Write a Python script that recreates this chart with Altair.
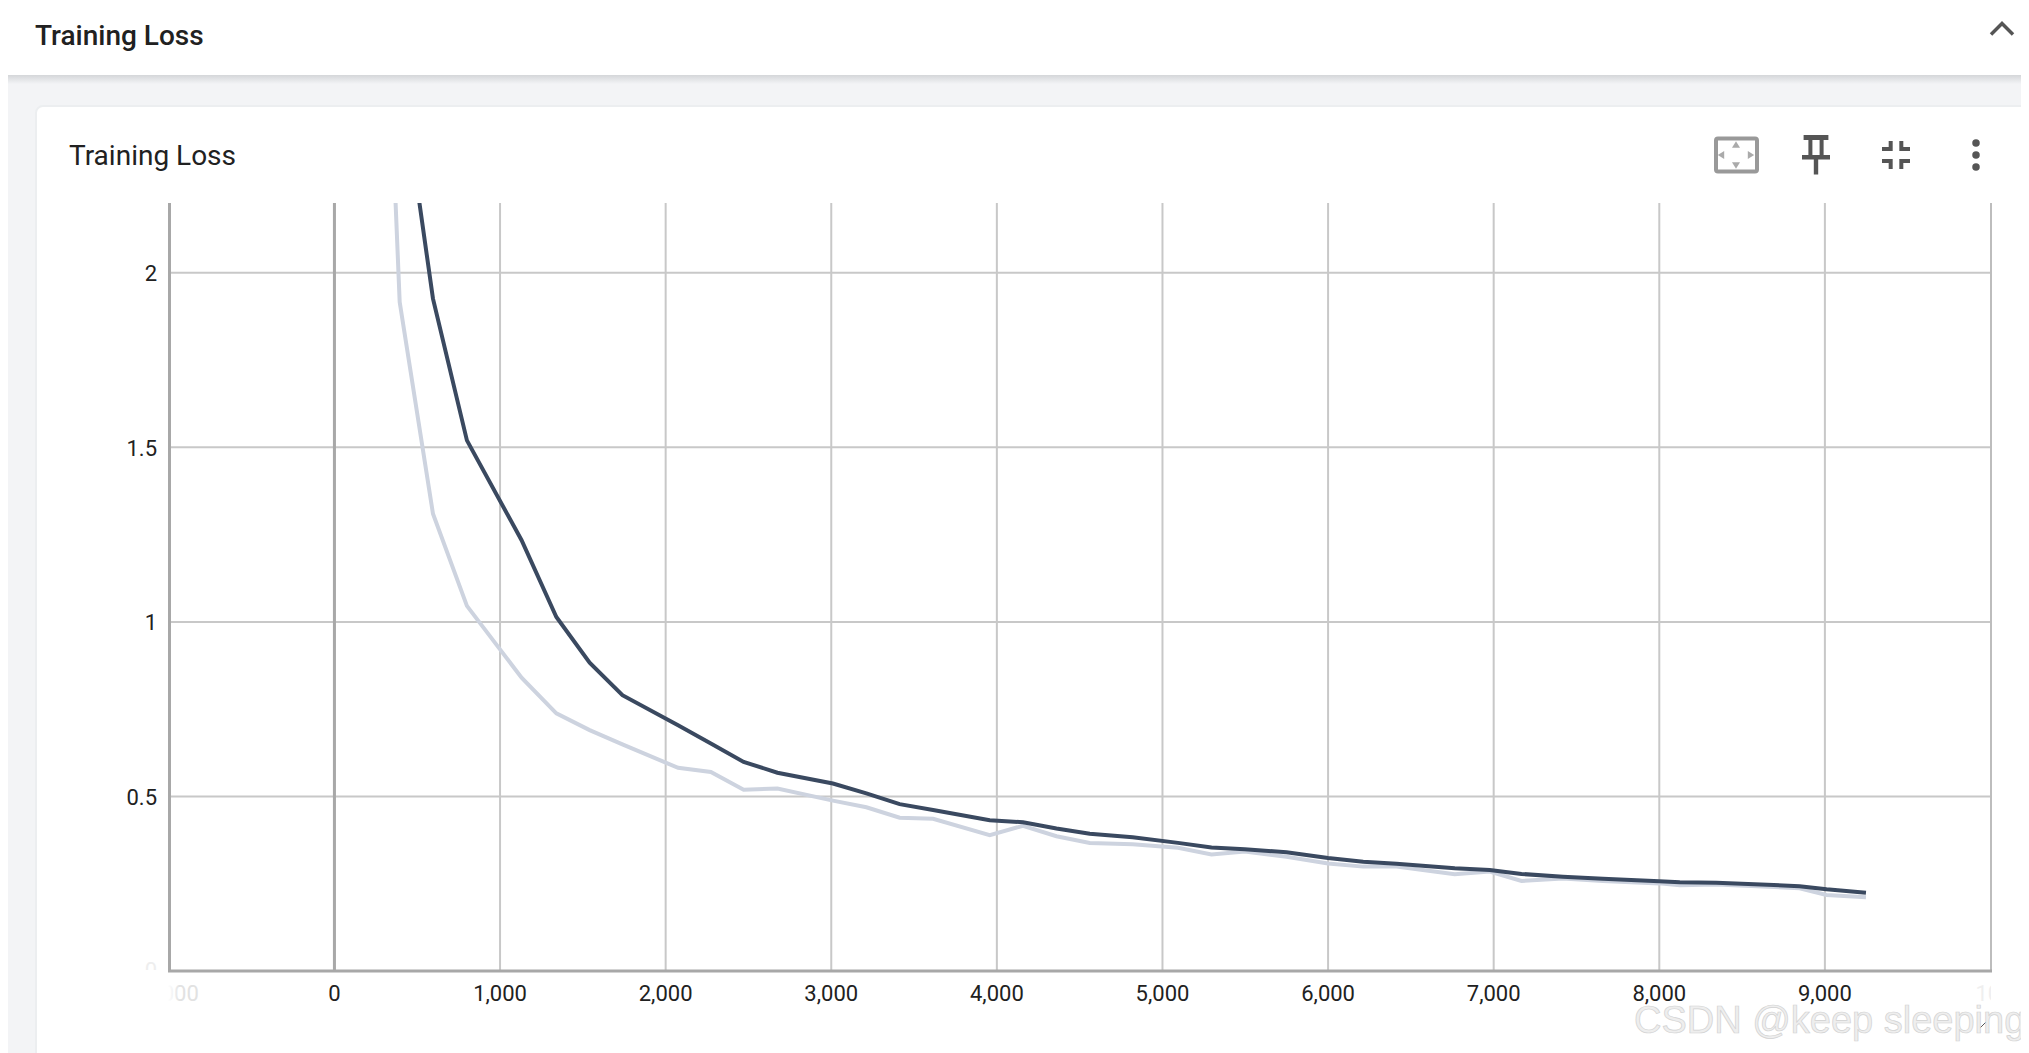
import altair as alt
import pandas as pd

# ---- data ----
dark_steps = [195, 394, 595, 800, 1130, 1340, 1541, 1739, 2075, 2273, 2471, 2675, 3010, 3212, 3413, 3615,
              3957, 4158, 4360, 4561, 4820, 5094, 5296, 5497, 5749, 6000, 6212, 6413, 6765, 6976, 7168,
              7418, 7660, 8000, 8124, 8345, 8847, 9010, 9248]
dark_values = [4.0, 2.6, 1.926, 1.52, 1.234, 1.014, 0.883, 0.79, 0.704, 0.652, 0.599, 0.568, 0.537, 0.509,
               0.478, 0.461, 0.432, 0.426, 0.408, 0.393, 0.383, 0.367, 0.354, 0.349, 0.34, 0.324, 0.313,
               0.307, 0.294, 0.289, 0.278, 0.27, 0.264, 0.257, 0.254, 0.253, 0.243, 0.234, 0.224]
light_steps = [195, 394, 595, 800, 1130, 1340, 1541, 1739, 2075, 2273, 2471, 2675, 3010, 3212, 3413, 3615,
               3957, 4158, 4360, 4561, 4820, 5094, 5296, 5497, 5749, 6000, 6212, 6413, 6765, 6976, 7168,
               7418, 7660, 8000, 8124, 8345, 8847, 9010, 9248]
light_values = [4.2, 1.916, 1.31, 1.046, 0.84, 0.738, 0.69, 0.649, 0.582, 0.57, 0.519, 0.523, 0.488, 0.469,
                0.439, 0.436, 0.389, 0.416, 0.386, 0.367, 0.363, 0.353, 0.334, 0.342, 0.327, 0.308, 0.299,
                0.299, 0.277, 0.285, 0.258, 0.265, 0.258, 0.251, 0.246, 0.248, 0.237, 0.218, 0.211]
x_ticks = [0, 1000, 2000, 3000, 4000, 5000, 6000, 7000, 8000, 9000]
x_tick_labels = ["0", "1,000", "2,000", "3,000", "4,000", "5,000", "6,000", "7,000", "8,000", "9,000"]
y_ticks = [0.5, 1, 1.5, 2]
y_tick_labels = ["0.5", "1", "1.5", "2"]
left_edge_tick = [-1000]
left_edge_label = ["-1,000"]
right_edge_tick = [10000]
right_edge_label = ["10,000"]
title_text = "Training Loss"
watermark = "CSDN @keep sleeping"

# ---- layout: page coordinates of the plot area ----
PL, PT, PW, PH = 168, 203, 1823, 768
X_DOMAIN = [-1005, 10003]
Y_DOMAIN = [0, 2.2]
FONT = "Roboto"
TICK_SIZE = 22
xs = alt.Scale(domain=X_DOMAIN, nice=False, zero=False)
ys = alt.Scale(domain=Y_DOMAIN, nice=False, zero=False)


def px(v):
    return alt.value(v - PL)


def py(v):
    return alt.value(v - PT)


def box(x0, y0, x1, y1, color, **kw):
    return alt.Chart(pd.DataFrame({"a": [0]})).mark_rect(color=color, **kw).encode(
        x=px(x0), x2=px(x1), y=py(y0), y2=py(y1))


def label(x, y, text, **kw):
    return alt.Chart(pd.DataFrame({"t": [text]})).mark_text(font=FONT, **kw).encode(
        x=px(x), y=py(y), text="t:N")


def icon(x, y, path, size, **kw):
    return alt.Chart(pd.DataFrame({"a": [0]})).mark_point(shape=path, size=size, opacity=1, **kw).encode(
        x=px(x), y=py(y))


def fade(c0, c1):
    return alt.Gradient(gradient="linear", x1=0, y1=0, x2=1, y2=0,
                        stops=[alt.GradientStop(color=c0, offset=0), alt.GradientStop(color=c1, offset=1)])


shadow = alt.Gradient(gradient="linear", x1=0, y1=0, x2=0, y2=1,
                      stops=[alt.GradientStop(color="#d4d6d9", offset=0), alt.GradientStop(color="#f3f4f6", offset=1)])

# ---- page chrome ----
chrome = [
    box(0, 75, 2040, 84, shadow),
    box(0, 0, 2040, 75, "#ffffff"),
    box(36, 106, 2040, 1060, "#ffffff", cornerRadius=7, stroke="#eceef0", strokeWidth=2),
    label(35, 37, title_text, fontSize=28, fontWeight=500, align="left", baseline="middle", color="#212121"),
    label(69, 157, title_text, fontSize=28, fontWeight=400, align="left", baseline="middle", color="#212121"),
]

# ---- grid, drawn under the curves ----
xgrid = alt.Chart(pd.DataFrame({"x": x_ticks})).mark_rule(color="#c8c8c8", strokeWidth=2).encode(
    x=alt.X("x:Q", scale=xs, axis=None), y=alt.value(0), y2=alt.value(PH))
x0rule = alt.Chart(pd.DataFrame({"x": [0]})).mark_rule(color="#a8a8a8", strokeWidth=3).encode(
    x=alt.X("x:Q", scale=xs, axis=None), y=alt.value(0), y2=alt.value(PH))
ygrid = alt.Chart(pd.DataFrame({"y": y_ticks})).mark_rule(color="#c8c8c8", strokeWidth=2).encode(
    y=alt.Y("y:Q", scale=ys, axis=None), x=alt.value(0), x2=alt.value(PW))
frame = [
    box(PL, PT, PL + 3, PT + PH, "#a8a8a8"),
    box(PL + PW - 1, PT, PL + PW + 1, PT + PH, "#bdbdbd"),
    box(PL, PT + PH - 1.5, PL + PW + 1, PT + PH + 1.5, "#a8a8a8"),
]

# ---- curves ----
light = alt.Chart(pd.DataFrame({"x": light_steps, "y": light_values})).mark_line(
    color="#cdd3df", strokeWidth=4, clip=True).encode(
    x=alt.X("x:Q", scale=xs, axis=None), y=alt.Y("y:Q", scale=ys, axis=None))
dark = alt.Chart(pd.DataFrame({"x": dark_steps, "y": dark_values})).mark_line(
    color="#3a4960", strokeWidth=4, clip=True).encode(
    x=alt.X("x:Q", scale=xs, axis=None), y=alt.Y("y:Q", scale=ys, axis=None))

# ---- tick labels ----
x_labels = alt.Chart(pd.DataFrame({"x": x_ticks, "t": x_tick_labels})).mark_text(
    font=FONT, fontSize=TICK_SIZE, color="#212121", baseline="middle", align="center").encode(
    x=alt.X("x:Q", scale=xs, axis=None), y=py(994), text="t:N")
y_labels = alt.Chart(pd.DataFrame({"y": y_ticks, "t": y_tick_labels})).mark_text(
    font=FONT, fontSize=TICK_SIZE, color="#212121", baseline="middle", align="right", dy=1.5).encode(
    y=alt.Y("y:Q", scale=ys, axis=None), x=px(157), text="t:N")

# ---- clipped, faded edge labels ----
edge_left = alt.Chart(pd.DataFrame({"x": left_edge_tick, "t": left_edge_label})).mark_text(
    font=FONT, fontSize=TICK_SIZE, color="#e2e2e2", baseline="middle").encode(
    x=alt.X("x:Q", scale=xs, axis=None), y=py(994), text="t:N")
edge_right = alt.Chart(pd.DataFrame({"x": right_edge_tick, "t": right_edge_label})).mark_text(
    font=FONT, fontSize=TICK_SIZE, color="#efefef", baseline="middle", align="left", dx=-15).encode(
    x=alt.X("x:Q", scale=xs, axis=None), y=py(994), text="t:N")
edge0 = label(157, 971, "0", fontSize=TICK_SIZE, align="right", baseline="middle", color="#eeeeee")
covers = [
    box(130, 980, PL, 1006, "#ffffff"),
    box(PL, 980, PL + 12, 1006, fade("#ffffff", "rgba(255,255,255,0)")),
    box(1991, 980, 2040, 1006, "#ffffff"),
    box(140, 970, 160, 982, "#ffffff"),
]

# ---- toolbar icons ----
triangle = "M-1,0.8L0,-0.8L1,0.8Z"
pin = ("M-0.62,-1L0.62,-1L0.62,-0.75L0.38,-0.75L0.38,0L0.7,0L0.7,0.22L0.11,0.22L0.11,0.97L-0.11,0.97L-0.11,0.22"
       "L-0.7,0.22L-0.7,0L-0.38,0L-0.38,-0.75L-0.62,-0.75Z"
       "M-0.18,-0.75L-0.18,0L0.18,0L0.18,-0.75Z")
compress = ("M-0.38,-1L-0.38,-0.42L-1,-0.42M0.38,-1L0.38,-0.42L1,-0.42"
            "M-0.38,1L-0.38,0.42L-1,0.42M0.38,1L0.38,0.42L1,0.42")
icons = [
    box(1716, 138.5, 1757, 171.5, "#ffffff", stroke="#999999", strokeWidth=4, cornerRadius=2),
    icon(1736, 144.5, triangle, 64, filled=True, color="#aaaaaa"),
    icon(1736, 165.5, "M-1,-0.8L0,0.8L1,-0.8Z", 64, filled=True, color="#aaaaaa"),
    icon(1721, 155, "M0.8,-1L-0.8,0L0.8,1Z", 64, filled=True, color="#aaaaaa"),
    icon(1751, 155, "M-0.8,-1L0.8,0L-0.8,1Z", 64, filled=True, color="#aaaaaa"),
    icon(1816, 155, pin, 1600, filled=True, color="#555555"),
    icon(1896, 155, compress, 784, filled=False, color="#555555", strokeWidth=4),
    icon(2002, 29, "M-1,0.5L0,-0.5L1,0.5", 484, filled=False, color="#555555", strokeWidth=3.5),
    icon(1976, 143, "circle", 56, filled=True, color="#555555"),
    icon(1976, 155, "circle", 56, filled=True, color="#555555"),
    icon(1976, 167, "circle", 56, filled=True, color="#555555"),
]
resize = alt.Chart(pd.DataFrame({"a": [0]})).mark_rule(color="#555555", strokeWidth=1).encode(
    x=px(1978), x2=px(1988), y=py(1030), y2=py(1020))

mark_text = alt.Chart(pd.DataFrame({"t": [watermark]})).mark_text(
    font="Liberation Sans", fontSize=38, align="left", baseline="alphabetic",
    color="#eeeeee", stroke="#d2d2d2", strokeWidth=0.7).encode(
    x=px(1634), y=py(1033), text="t:N")

chart = alt.layer(
    *chrome, xgrid, ygrid, x0rule, *frame, light, dark, x_labels, y_labels, edge_left, edge_right, edge0, *covers,
    *icons, resize, mark_text
).resolve_scale(x="shared", y="shared").properties(
    width=PW, height=PH,
    padding={"left": PL - 8, "top": PT - 8, "right": 2013 - (PL - 8) - PW, "bottom": 1045 - (PT - 8) - PH},
    autosize=alt.AutoSizeParams(type="none"),
    background="#f3f4f6",
).configure_view(stroke=None)

chart.save("out.html", embed_options={"renderer": "svg", "actions": False})
